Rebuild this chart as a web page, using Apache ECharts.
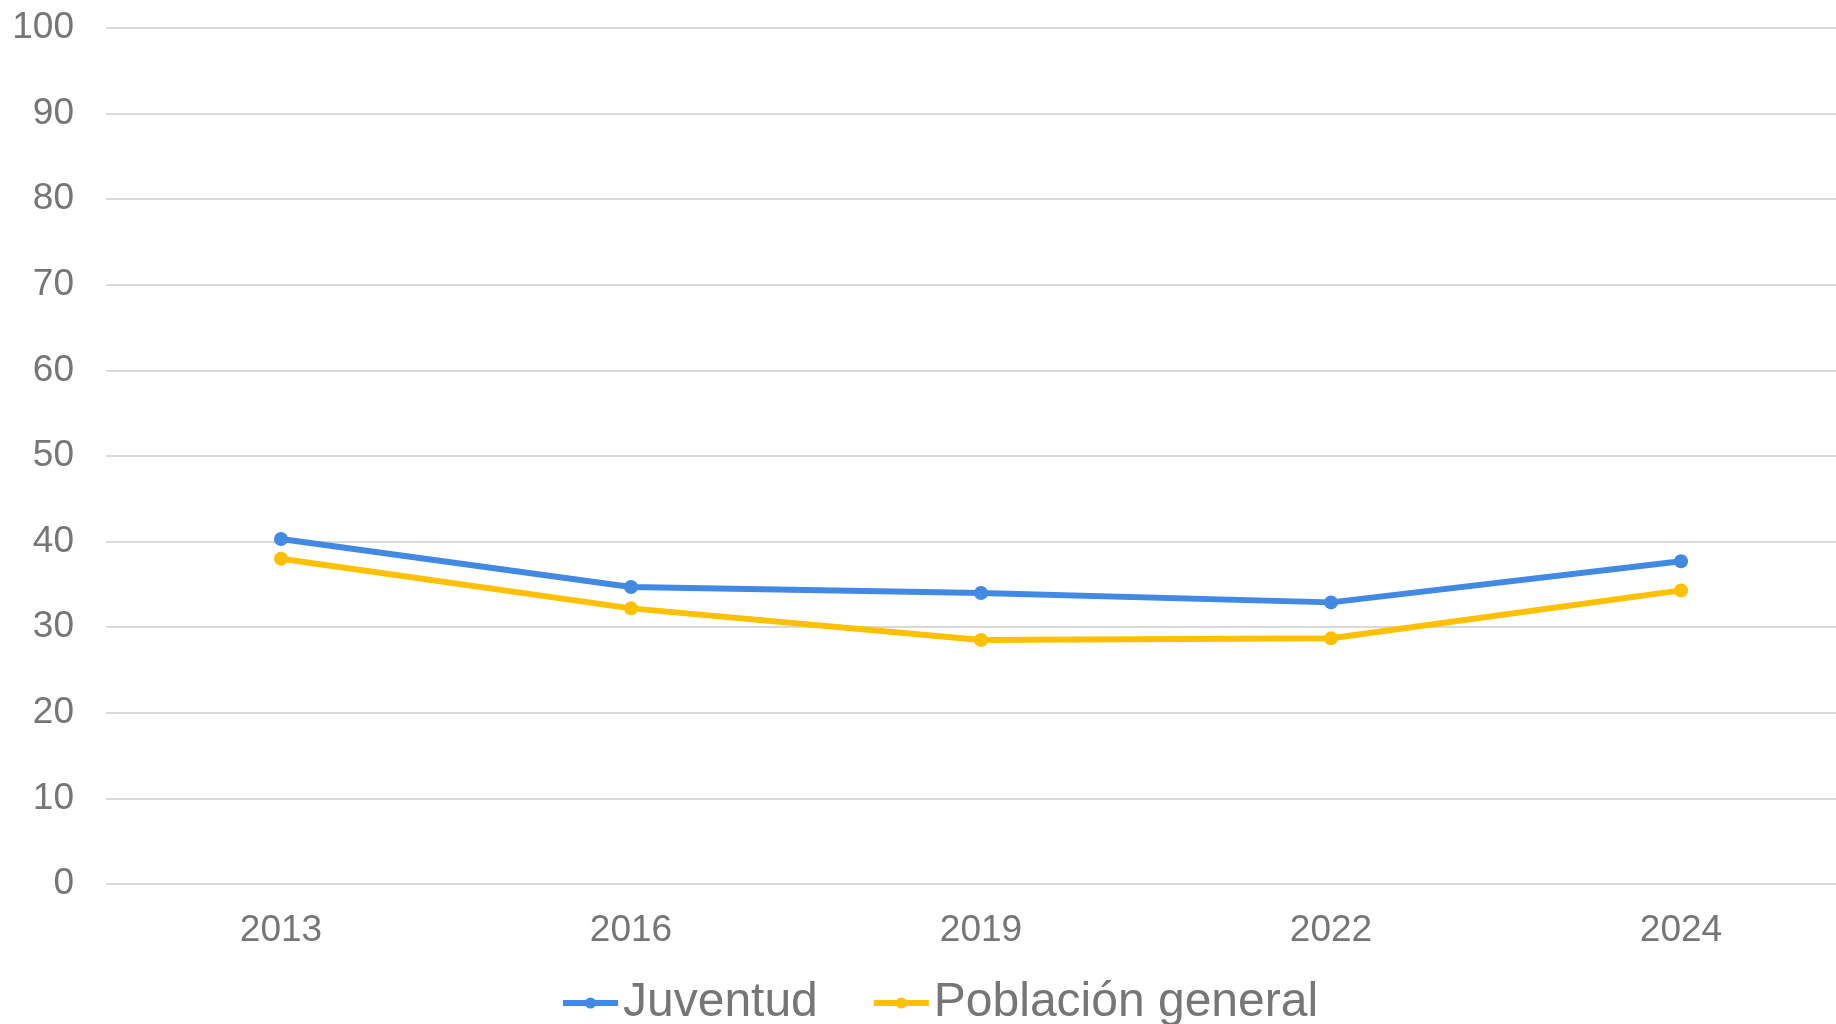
<!DOCTYPE html>
<html>
<head>
<meta charset="utf-8">
<script src="https://cdn.jsdelivr.net/npm/echarts@6/dist/echarts.min.js"></script>
<style>
  html, body { margin: 0; padding: 0; background: #fff; overflow: hidden; }
  /* el area de trazado sigue mas alla del borde derecho */
  #main { width: 1856px; height: 1024px; }
</style>
</head>
<body>
<div id="main"></div>
<script>
// años del eje x
var years = ['2013', '2016', '2019', '2022', '2024']
// valores
var juventud = [40.3, 34.7, 34.0, 32.9, 37.7]
var poblacion = [38.0, 32.2, 28.5, 28.7, 34.3]
var seriesNames = ['Juventud', 'Población general']

var chart = echarts.init(document.getElementById('main'), null, { renderer: 'canvas' })

var option = {
    backgroundColor: '#ffffff',
    textStyle: { fontFamily: 'Liberation Sans, Arial, sans-serif' },
    grid: {
        left: 106,
        right: 0,
        top: 28,
        bottom: 140
    },
    legend: {
        data: seriesNames,
        left: 555,
        top: 974,
        itemWidth: 55,
        itemHeight: 14,
        itemGap: 53,
        lineStyle: { width: 6 },
        textStyle: {
            fontSize: 48,
            color: '#767676',
            fontFamily: 'Liberation Sans, Arial, sans-serif'
        }
    },
    xAxis: {
        type: 'category',
        data: years,
        boundaryGap: true,
        axisLine: { show: false },
        axisTick: { show: false },
        axisLabel: {
            fontSize: 37,
            color: '#767676',
            margin: 28
        }
    },
    yAxis: {
        type: 'value',
        min: 0,
        max: 100,
        interval: 10,
        axisLine: { show: false },
        axisTick: { show: false },
        axisLabel: {
            fontSize: 37,
            color: '#767676',
            margin: 32
        },
        splitLine: {
            lineStyle: { color: '#d9d9d9', width: 2 }
        }
    },
    series: [
        {
            name: seriesNames[0],
            type: 'line',
            data: juventud,
            symbol: 'circle',
            symbolSize: 14,
            itemStyle: { color: '#4189e3' },
            lineStyle: { color: '#4189e3', width: 6 }
        },
        {
            name: seriesNames[1],
            type: 'line',
            data: poblacion,
            symbol: 'circle',
            symbolSize: 14,
            itemStyle: { color: '#ffc000' },
            lineStyle: { color: '#ffc000', width: 6 }
        }
    ]
}
chart.setOption(option)
</script>
</body>
</html>
